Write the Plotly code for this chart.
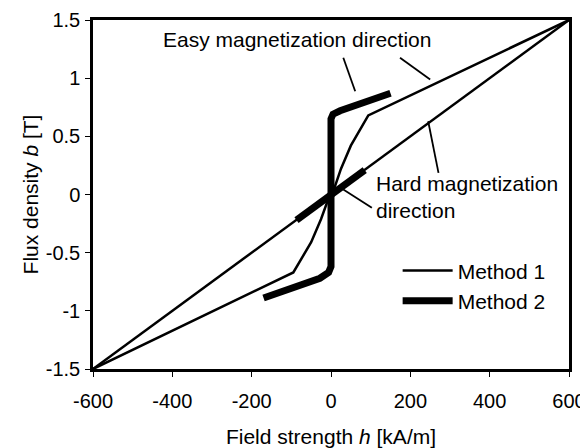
import plotly.graph_objects as go

# ---- data ----
m1_easy_h = [-600, -95, -50, -25, -8, 0, 8, 25, 50, 94, 600]
m1_easy_b = [-1.5, -0.67, -0.41, -0.21, -0.05, 0.0, 0.05, 0.22, 0.42, 0.68, 1.5]

m1_hard_h = [-600, -520, -400, -200, 0, 200, 400, 520, 600]
m1_hard_b = [-1.5, -1.30, -1.0, -0.5, 0.0, 0.5, 1.0, 1.30, 1.5]

m2_easy_h = [-170, -100, -28, -6, 0, 0, 0, 5, 23, 90, 150]
m2_easy_b = [-0.89, -0.81, -0.72, -0.67, -0.62, 0.0, 0.65, 0.69, 0.72, 0.80, 0.87]

m2_hard_h = [-87, -60, -30, 0, 30, 60, 85]
m2_hard_b = [-0.22, -0.15, -0.075, 0.0, 0.075, 0.15, 0.21]

x_tickvals = [-600, -400, -200, 0, 200, 400, 600]
x_ticktext = ["-600", "-400", "-200", "0", "200", "400", "600"]
y_tickvals = [-1.5, -1, -0.5, 0, 0.5, 1, 1.5]
y_ticktext = ["-1.5", "-1", "-0.5", "0", "0.5", "1", "1.5"]

FONT = "Liberation Sans, Arial, sans-serif"
FS_TICK = 20
FS = 21

fig = go.Figure()
fig.add_trace(go.Scatter(x=m1_easy_h, y=m1_easy_b, mode="lines", name="Method 1",
                         legendgroup="m1", line=dict(color="black", width=2.5)))
fig.add_trace(go.Scatter(x=m1_hard_h, y=m1_hard_b, mode="lines", name="Method 1",
                         legendgroup="m1", showlegend=False, line=dict(color="black", width=2.5)))
fig.add_trace(go.Scatter(x=m2_easy_h, y=m2_easy_b, mode="lines", name="Method 2",
                         legendgroup="m2", line=dict(color="black", width=7)))
fig.add_trace(go.Scatter(x=m2_hard_h, y=m2_hard_b, mode="lines", name="Method 2",
                         legendgroup="m2", showlegend=False, line=dict(color="black", width=7)))

# annotation texts
fig.add_annotation(x=-86, y=1.33, text="Easy magnetization direction", showarrow=False,
                   xanchor="center", yanchor="middle", font=dict(size=FS, color="black", family=FONT))
fig.add_annotation(x=108, y=-0.02, text="Hard magnetization<br>direction", showarrow=False,
                   xanchor="left", yanchor="middle", align="left",
                   font=dict(size=FS, color="black", family=FONT))

# leader lines
leaders = [
    (31, 1.175, 61, 0.887),
    (174, 1.175, 250, 0.988),
    (271, 0.186, 245, 0.63),
    (103, -0.114, 31, 0.043),
]
for x0, y0, x1, y1 in leaders:
    fig.add_shape(type="line", x0=x0, y0=y0, x1=x1, y1=y1, xref="x", yref="y",
                  line=dict(color="black", width=1.8))

axis_common = dict(showline=True, linecolor="black", linewidth=2.5, mirror=True,
                   ticks="outside", ticklen=5, tickwidth=1, tickcolor="black",
                   showgrid=False, zeroline=False, automargin=False,
                   tickfont=dict(size=FS_TICK, color="black", family=FONT))

fig.update_xaxes(range=[-600, 600], tickvals=x_tickvals, ticktext=x_ticktext,
                 ticklabelstandoff=7,
                 title=dict(text="Field strength <i>h</i> [kA/m]", standoff=19,
                            font=dict(size=FS, color="black", family=FONT)),
                 **axis_common)
fig.update_yaxes(range=[-1.5, 1.5], tickvals=y_tickvals, ticktext=y_ticktext,
                 ticklabelstandoff=1,
                 title=dict(text="Flux density <i>b</i> [T]", standoff=2,
                            font=dict(size=FS, color="black", family=FONT)),
                 **axis_common)

fig.update_layout(
    width=588, height=448,
    margin=dict(l=85, r=27, t=12, b=87, autoexpand=False),
    plot_bgcolor="white", paper_bgcolor="white",
    font=dict(family=FONT, size=FS, color="black"),
    showlegend=True,
    legend=dict(x=0.64, y=0.34, xanchor="left", yanchor="top",
                bgcolor="rgba(0,0,0,0)", font=dict(size=FS, color="black", family=FONT),
                itemwidth=50, tracegroupgap=0),
)

fig.write_html("out.html")
